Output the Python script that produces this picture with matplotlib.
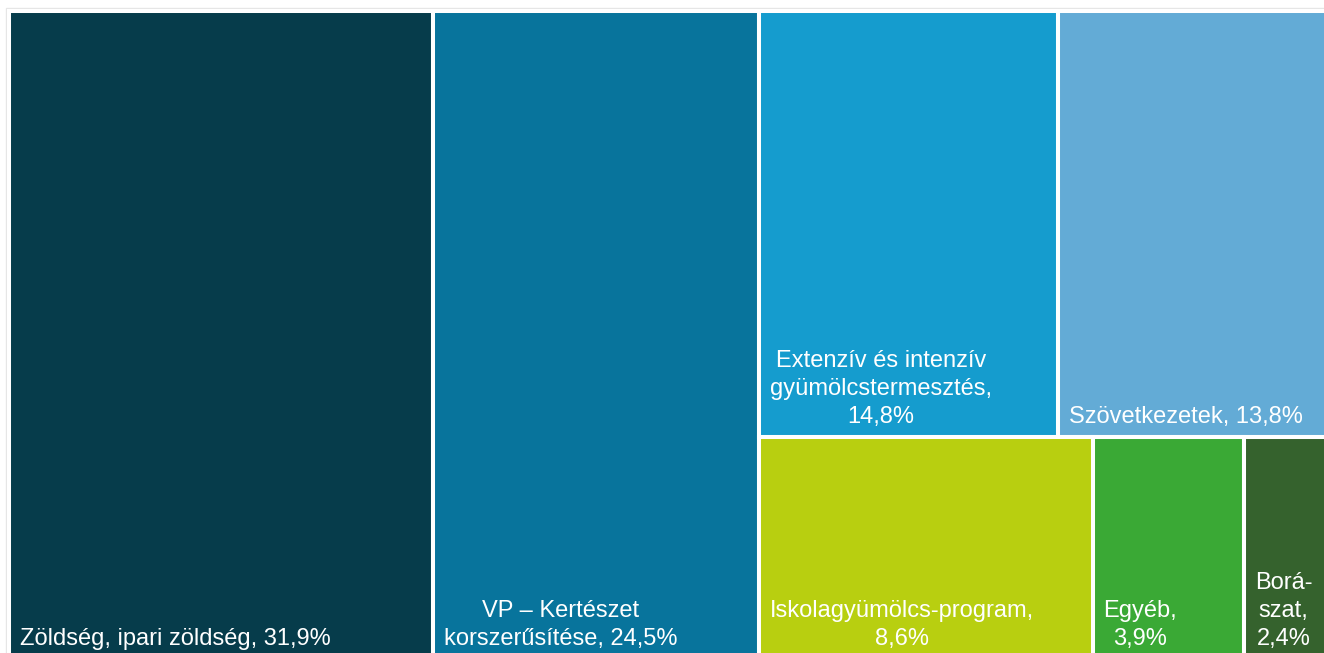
import matplotlib.pyplot as plt
from matplotlib.patches import Rectangle

plt.rcParams['font.family'] = ['Liberation Sans', 'DejaVu Sans']

# Data
labels = [
    "Zöldség, ipari zöldség, 31,9%",
    "VP – Kertészet\nkorszerűsítése, 24,5%",
    "Extenzív és intenzív\ngyümölcstermesztés,\n14,8%",
    "Szövetkezetek, 13,8%",
    "Iskolagyümölcs-program,\n8,6%",
    "Egyéb,\n3,9%",
    "Borá-\nszat,\n2,4%",
]
values = [31.9, 24.5, 14.8, 13.8, 8.6, 3.9, 2.4]
colors = ["#063c4b", "#08749c", "#159cce", "#63abd6", "#b8cf10", "#3aa935", "#35622d"]

# layout: two full-height columns, then a column split into two rows
top_row = [2, 3]
bottom_row = [4, 5, 6]

X0, Y0, W, H = 9, 11, 1328, 648

fig = plt.figure(figsize=(13.24, 6.53), dpi=100)
ax = fig.add_axes([0, 0, 1, 1])
ax.set_xlim(0, 1324)
ax.set_ylim(653, 0)
ax.axis('off')

total = sum(values)
rects = {}
x = X0
for i in (0, 1):
    w = values[i] / total * W
    rects[i] = (x, Y0, w, H)
    x += w
gw = W - (x - X0)
gsum = sum(values[i] for i in top_row + bottom_row)
h_top = sum(values[i] for i in top_row) / gsum * H
for row, y, h in ((top_row, Y0, h_top), (bottom_row, Y0 + h_top, H - h_top)):
    rsum = sum(values[i] for i in row)
    xx = x
    for i in row:
        w = values[i] / rsum * gw
        rects[i] = (xx, y, w, h)
        xx += w

# faint outer frame
ax.add_patch(Rectangle((6, 8), 1330, 660, fill=False, edgecolor="#e6e6e6", lw=1))

for i, (rx, ry, rw, rh) in rects.items():
    ax.add_patch(Rectangle((rx, ry), rw, rh, facecolor=colors[i],
                           edgecolor="white", lw=2.9))
    ax.text(rx + 11, ry + rh - 9, labels[i], color="white", fontsize=17,
            ha="left", va="bottom", multialignment="center", linespacing=1.36)

fig.savefig("out.png", dpi=100)
